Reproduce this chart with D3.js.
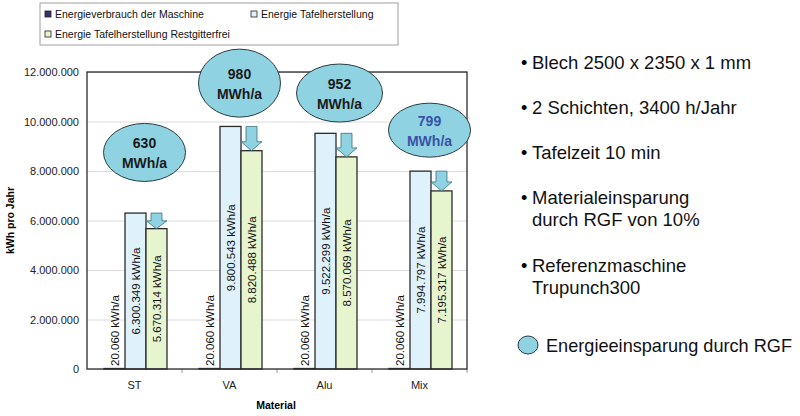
<!DOCTYPE html>
<html>
<head>
<meta charset="utf-8">
<script src="https://cdn.jsdelivr.net/npm/d3@7"></script>
<style>
   body { margin: 0; background: #fff; }
   svg { font-family: Arial, "Liberation Sans", sans-serif; }
   .grid line { stroke: #dcdcdc; }
   .grid .domain { display: none; }
   .axis text { fill: #222; }
</style>
</head>
<body>
<div id="chartContainer"></div>
<script>
'use strict';

// chart data
var categories = ["ST", "VA", "Alu", "Mix"];
var seriesNames = ["Energieverbrauch der Maschine", "Energie Tafelherstellung", "Energie Tafelherstellung Restgitterfrei"];
var machineEnergy = [20060, 20060, 20060, 20060];
var sheetEnergy = [6300349, 9800543, 9522299, 7994797];
var sheetEnergyRgf = [5670314, 8820488, 8570069, 7195317];
var machineLabels = ["20.060 kWh/a", "20.060 kWh/a", "20.060 kWh/a", "20.060 kWh/a"];
var sheetLabels = ["6.300.349 kWh/a", "9.800.543 kWh/a", "9.522.299 kWh/a", "7.994.797 kWh/a"];
var sheetRgfLabels = ["5.670.314 kWh/a", "8.820.488 kWh/a", "8.570.069 kWh/a", "7.195.317 kWh/a"];
var savings = ["630", "980", "952", "799"];
var savingsLevel = [8750000, 11550000, 11150000, 9650000];   // where the bubbles sit (kWh)
var yTicks = [0, 2000000, 4000000, 6000000, 8000000, 10000000, 12000000];
var yTickLabels = ["0", "2.000.000", "4.000.000", "6.000.000", "8.000.000", "10.000.000", "12.000.000"];
var notes = [["Blech 2500 x 2350 x 1 mm"], ["2 Schichten, 3400 h/Jahr"], ["Tafelzeit 10 min"],
   ["Materialeinsparung", "durch RGF von 10%"], ["Referenzmaschine", "Trupunch300"]];

var width = 800, height = 416;
var margin = { top: 72, right: 333, bottom: 47, left: 87 };
var plotW = width - margin.left - margin.right;
var plotH = height - margin.top - margin.bottom;

var colors = ["#33336b", "#dff1fb", "#e7f5cf"];
var bubbleFill = "#8fd3e2";

var svg = d3.select("#chartContainer")
   .append("svg")
   .attr("width", width)
   .attr("height", height);

var x0 = d3.scaleBand()
   .domain(categories)
   .range([0, plotW]);

var x1 = d3.scaleBand()
   .domain([0, 1, 2])
   .range([17, x0.bandwidth() - 15]);

var y = d3.scaleLinear()
   .domain([0, 12000000])
   .range([plotH, 0]);

var focus = svg.append("g")
   .attr("transform", "translate(" + margin.left + "," + margin.top + ")");

// gridlines
focus.append("g")
   .attr("class", "grid")
   .call(d3.axisLeft(y).tickValues(yTicks).tickSize(-plotW).tickFormat(""));

// y axis labels
var gY = focus.append("g")
   .attr("class", "axis")
   .call(d3.axisLeft(y).tickValues(yTicks).tickSize(0).tickPadding(8)
      .tickFormat(function (d, i) { return yTickLabels[i]; }));
gY.select(".domain").remove();
gY.selectAll("text").style("font-size", "11px");

// x axis
var gX = focus.append("g")
   .attr("class", "axis")
   .attr("transform", "translate(0," + plotH + ")")
   .call(d3.axisBottom(x0).tickSize(0).tickPadding(12));
gX.select(".domain").remove();
gX.selectAll("text").style("font-size", "11px");
// ticks between categories
focus.append("g")
   .selectAll("line")
   .data(categories)
   .enter().append("line")
   .attr("x1", function (d) { return x0(d) + x0.bandwidth(); })
   .attr("x2", function (d) { return x0(d) + x0.bandwidth(); })
   .attr("y1", plotH)
   .attr("y2", plotH + 4)
   .style("stroke", "#999");

var barData = categories.map(function (c, i) {
   return [
      { cat: c, s: 0, v: machineEnergy[i], label: machineLabels[i] },
      { cat: c, s: 1, v: sheetEnergy[i], label: sheetLabels[i] },
      { cat: c, s: 2, v: sheetEnergyRgf[i], label: sheetRgfLabels[i] }
   ];
});

var groups = focus.selectAll(".group")
   .data(barData)
   .enter().append("g")
   .attr("class", "group")
   .attr("transform", function (d) { return "translate(" + x0(d[0].cat) + ",0)"; });

groups.selectAll("rect")
   .data(function (d) { return d; })
   .enter().append("rect")
   .attr("x", function (d) { return x1(d.s); })
   .attr("width", x1.bandwidth())
   .attr("y", function (d) { return y(d.v); })
   .attr("height", function (d) { return plotH - y(d.v); })
   .attr("fill", function (d) { return colors[d.s]; })
   .attr("stroke", "#2b2b2b")
   .attr("stroke-width", 1.3);

// value labels, rotated
groups.selectAll(".vlabel")
   .data(function (d) { return d; })
   .enter().append("text")
   .attr("class", "vlabel")
   .attr("transform", function (d) {
      var cx = x1(d.s) + x1.bandwidth() / 2 + 4;
      var cy = d.s === 0 ? plotH - 3 : (y(d.v) + plotH) / 2;
      return "translate(" + cx + "," + cy + ") rotate(-90)";
   })
   .attr("text-anchor", function (d) { return d.s === 0 ? "start" : "middle"; })
   .style("font-size", "11.5px")
   .style("fill", "#111")
   .text(function (d) { return d.label; });

// arrows from the full bar down to the RGF bar
groups.append("path")
   .attr("d", function (d) {
      var top = y(d[1].v), tip = y(d[2].v);
      var l = x1(2), r = x1(2) + x1.bandwidth(), m = (l + r) / 2;
      var head = Math.min(9, (tip - top) * 0.5);
      var sw = 5.5;
      return "M" + (m - sw) + "," + top + "L" + (m + sw) + "," + top +
         "L" + (m + sw) + "," + (tip - head) + "L" + r + "," + (tip - head) +
         "L" + m + "," + tip + "L" + l + "," + (tip - head) +
         "L" + (m - sw) + "," + (tip - head) + "Z";
   })
   .attr("fill", bubbleFill)
   .attr("stroke", "#3a6f7a")
   .attr("stroke-width", 0.8);

// plot frame
focus.append("rect")
   .attr("width", plotW)
   .attr("height", plotH)
   .attr("fill", "none")
   .attr("stroke", "#2b2b2b")
   .attr("stroke-width", 1.3);

// savings bubbles
var bubbles = focus.selectAll(".bubble")
   .data(categories)
   .enter().append("g")
   .attr("class", "bubble")
   .attr("transform", function (d, i) {
      return "translate(" + (x0(d) + x0.bandwidth() / 2 + (i === 2 ? 15 : 10)) + "," + y(savingsLevel[i]) + ")";
   });

bubbles.append("ellipse")
   .attr("rx", function (d, i) { return i === 2 ? 43 : 41; })
   .attr("ry", function (d, i) { return i === 1 ? 34 : (i === 3 ? 27 : 29); })
   .attr("fill", bubbleFill)
   .attr("stroke", "#2b3b40")
   .attr("stroke-width", 1);

bubbles.append("text")
   .attr("text-anchor", "middle")
   .attr("y", -4)
   .style("font-size", "14px")
   .style("font-weight", "bold")
   .style("fill", function (d, i) { return i === 3 ? "#3a52a8" : "#1a1a1a"; })
   .text(function (d, i) { return savings[i]; });

bubbles.append("text")
   .attr("text-anchor", "middle")
   .attr("y", 16)
   .style("font-size", "14px")
   .style("font-weight", "bold")
   .style("fill", function (d, i) { return i === 3 ? "#3a52a8" : "#1a1a1a"; })
   .text("MWh/a");

// axis titles
svg.append("text")
   .attr("transform", "translate(14," + (margin.top + plotH / 2) + ") rotate(-90)")
   .attr("text-anchor", "middle")
   .style("font-size", "10.5px")
   .style("font-weight", "bold")
   .text("kWh pro Jahr");

svg.append("text")
   .attr("x", 276)
   .attr("y", 409)
   .attr("text-anchor", "middle")
   .style("font-size", "10.5px")
   .style("font-weight", "bold")
   .text("Material");

// legend
var legend = svg.append("g").attr("transform", "translate(40,3)");
legend.append("rect")
   .attr("width", 358)
   .attr("height", 42)
   .attr("fill", "#fff")
   .attr("stroke", "#a0a0a0");

var legendPos = [[5, 15], [211, 15], [5, 35]];
var items = legend.selectAll(".item")
   .data(seriesNames)
   .enter().append("g")
   .attr("class", "item")
   .attr("transform", function (d, i) { return "translate(" + legendPos[i][0] + "," + legendPos[i][1] + ")"; });
items.append("rect")
   .attr("y", -7)
   .attr("width", 6)
   .attr("height", 6)
   .attr("fill", function (d, i) { return colors[i]; })
   .attr("stroke", "#222")
   .attr("stroke-width", 0.8);
items.append("text")
   .attr("x", 10)
   .style("font-size", "10.5px")
   .style("fill", "#111")
   .text(function (d) { return d; });

// notes on the right
var noteY = [69, 114, 159, 204, 272];
var noteG = svg.selectAll(".note")
   .data(notes)
   .enter().append("g")
   .attr("class", "note")
   .attr("transform", function (d, i) { return "translate(521," + noteY[i] + ")"; });
noteG.append("text")
   .style("font-size", "18px")
   .text("\u2022");
noteG.selectAll(".line")
   .data(function (d) { return d; })
   .enter().append("text")
   .attr("class", "line")
   .attr("x", 11)
   .attr("y", function (d, i) { return i * 22; })
   .style("font-size", "18.5px")
   .style("fill", "#111")
   .text(function (d) { return d; });

// bubble legend
svg.append("ellipse")
   .attr("cx", 528)
   .attr("cy", 345)
   .attr("rx", 10)
   .attr("ry", 9)
   .attr("fill", bubbleFill)
   .attr("stroke", "#2b3b40");
svg.append("text")
   .attr("x", 546)
   .attr("y", 352)
   .attr("textLength", 246)
   .attr("lengthAdjust", "spacingAndGlyphs")
   .style("font-size", "18.5px")
   .style("fill", "#111")
   .text("Energieeinsparung durch RGF");
</script>
</body>
</html>
